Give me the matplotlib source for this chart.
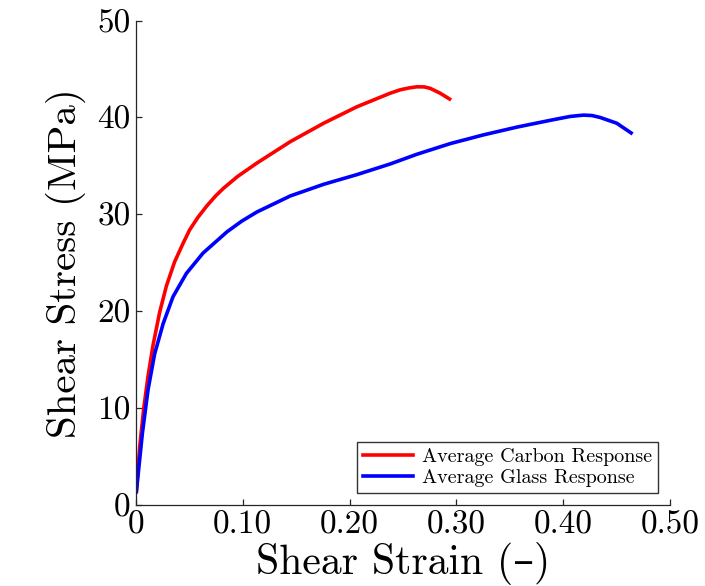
import matplotlib
matplotlib.use("Agg")
import matplotlib.pyplot as plt

plt.rcParams["font.family"] = ["cmr10", "DejaVu Serif"]
plt.rcParams["mathtext.fontset"] = "cm"
plt.rcParams["axes.formatter.use_mathtext"] = True

# Average shear response of carbon and glass specimens
carbon_strain = [0.0003, 0.0034, 0.0072, 0.0112, 0.0159, 0.0221, 0.0284, 0.0361, 0.044,
                 0.0502, 0.058, 0.0665, 0.0745, 0.082, 0.095, 0.1133, 0.1445, 0.1757,
                 0.2069, 0.2381, 0.2475, 0.2560, 0.2631, 0.2700, 0.2756, 0.2849, 0.2937]
carbon_stress = [1.4, 6.0, 10.0, 13.3, 16.5, 19.9, 22.6, 25.1, 27.0,
                 28.4, 29.7, 30.9, 31.9, 32.7, 33.9, 35.3, 37.5, 39.4,
                 41.1, 42.5, 42.85, 43.05, 43.16, 43.15, 43.0, 42.5, 41.9]

glass_strain = [0.0003, 0.003, 0.0059, 0.0112, 0.0174, 0.0253, 0.0346, 0.0471, 0.0627,
                0.0852, 0.099, 0.1133, 0.1445, 0.1757, 0.2069, 0.2381, 0.2631, 0.2943,
                0.3255, 0.3567, 0.3879, 0.4066, 0.4191, 0.4270, 0.4347, 0.4504, 0.4638]
glass_stress = [1.4, 4.3, 7.4, 11.9, 15.6, 18.7, 21.5, 23.9, 26.0,
                28.2, 29.3, 30.25, 31.9, 33.1, 34.1, 35.2, 36.2, 37.3,
                38.2, 39.0, 39.7, 40.1, 40.24, 40.2, 40.0, 39.4, 38.4]

x_ticks = [0, 0.10, 0.20, 0.30, 0.40, 0.50]
x_tick_labels = ["0", "0.10", "0.20", "0.30", "0.40", "0.50"]
y_ticks = [0, 10, 20, 30, 40, 50]
y_tick_labels = ["0", "10", "20", "30", "40", "50"]

fig = plt.figure(figsize=(7.05, 5.86), dpi=100)
ax = fig.add_axes([0.193, 0.138, 0.757, 0.827])

ax.plot(carbon_strain, carbon_stress, color="#ff0000", lw=2.6,
        label="Average Carbon Response", solid_joinstyle="round")
ax.plot(glass_strain, glass_stress, color="#0000ff", lw=2.6,
        label="Average Glass Response", solid_joinstyle="round")

ax.set_xlim(0, 0.5)
ax.set_ylim(0, 50)
ax.set_xticks(x_ticks)
ax.set_xticklabels(x_tick_labels)
ax.set_yticks(y_ticks)
ax.set_yticklabels(y_tick_labels)

for side in ("top", "right"):
    ax.spines[side].set_visible(False)
for side in ("left", "bottom"):
    ax.spines[side].set_color("#262626")
    ax.spines[side].set_linewidth(0.9)

ax.tick_params(direction="in", length=4, width=0.9, color="#262626",
               labelsize=24, pad=4)

ax.set_xlabel("Shear Strain (\u2013)", fontsize=30, labelpad=2)
ax.set_ylabel("Shear Stress (MPa)", fontsize=29.5, labelpad=8)

leg = ax.legend(loc="lower right", fontsize=14.5, frameon=True, fancybox=False,
                handlelength=2.5, borderpad=0.3, labelspacing=0.15,
                handletextpad=0.4, borderaxespad=0.6)
leg.get_frame().set_edgecolor("black")
leg.get_frame().set_linewidth(1.0)

fig.savefig("out.png", dpi=100, facecolor="white")
